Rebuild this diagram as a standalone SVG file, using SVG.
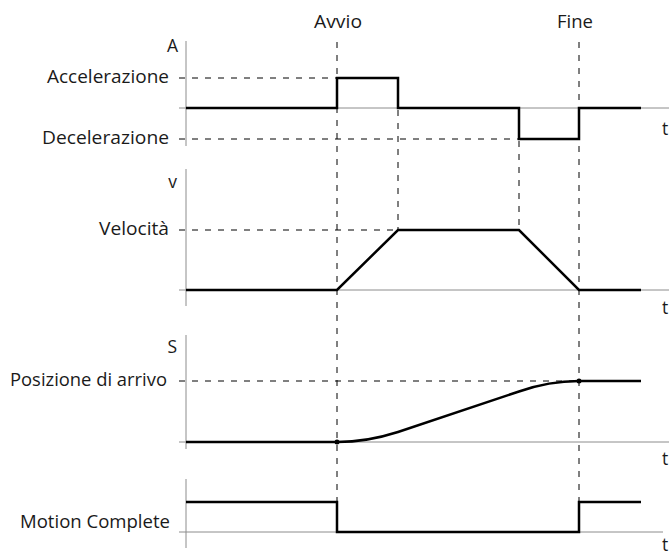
<svg xmlns="http://www.w3.org/2000/svg" width="669" height="556" viewBox="0 0 669 556">
<style>
.bg{fill:#ffffff}
.axis{stroke:#8c8c8c;stroke-width:1;fill:none}
.dash{stroke:#000;stroke-width:1;stroke-dasharray:6 7;fill:none}
.sig{stroke:#000;stroke-width:2.5;fill:none;stroke-linejoin:miter}
.lbl{font-family:"Open Sans","Noto Sans","DejaVu Sans",sans-serif;font-size:17.5px;fill:#1a1a1a}
.end{text-anchor:end}
.mid{text-anchor:middle}
.dot{fill:#000}
</style>
<rect class="bg" x="0" y="0" width="669" height="556"/>
<g id="connectors">
  <line class="dash" x1="337" y1="42" x2="337" y2="502"/>
  <line class="dash" x1="579" y1="42" x2="579" y2="502"/>
  <line class="dash" x1="398" y1="110" x2="398" y2="230"/>
  <line class="dash" x1="519" y1="141" x2="519" y2="230"/>
  <line class="dash" x1="179" y1="78" x2="337" y2="78"/>
  <line class="dash" x1="179" y1="139" x2="519" y2="139"/>
  <line class="dash" x1="179" y1="230" x2="398" y2="230"/>
  <line class="dash" x1="179" y1="381" x2="579" y2="381"/>
</g>
<g id="chart-acceleration">
  <line class="axis" x1="186" y1="41" x2="186" y2="146"/>
  <line class="axis" x1="179" y1="108" x2="669" y2="108"/>
  <path class="sig" d="M186,108 H337 V78 H398 V108 H519 V139 H579 V108 H641"/>
  <text class="lbl end" x="178" y="52">A</text>
  <text class="lbl end" x="169" y="83" textLength="122" lengthAdjust="spacingAndGlyphs">Accelerazione</text>
  <text class="lbl end" x="169" y="144" textLength="127" lengthAdjust="spacingAndGlyphs">Decelerazione</text>
  <text class="lbl" x="662" y="135">t</text>
</g>
<g id="chart-velocity">
  <line class="axis" x1="186" y1="169" x2="186" y2="306"/>
  <line class="axis" x1="179" y1="290" x2="669" y2="290"/>
  <path class="sig" d="M186,290 H337 L398,230 H519 L579,290 H641"/>
  <text class="lbl end" x="177" y="188">v</text>
  <text class="lbl end" x="169" y="235" textLength="70" lengthAdjust="spacingAndGlyphs">Velocità</text>
  <text class="lbl" x="662" y="314">t</text>
</g>
<g id="chart-position">
  <line class="axis" x1="186" y1="335" x2="186" y2="449"/>
  <line class="axis" x1="179" y1="442" x2="669" y2="442"/>
  <path class="sig" d="M186,442 H337 Q367,442 398,432 L519,391.5 Q549,381 579,381 H641"/>
  <circle class="dot" cx="337" cy="442" r="2.5"/>
  <circle class="dot" cx="579" cy="381" r="2.5"/>
  <text class="lbl end" x="177" y="353">S</text>
  <text class="lbl end" x="167" y="386" textLength="157" lengthAdjust="spacingAndGlyphs">Posizione di arrivo</text>
  <text class="lbl" x="662" y="465">t</text>
</g>
<g id="chart-motion-complete">
  <line class="axis" x1="186" y1="479" x2="186" y2="548"/>
  <line class="axis" x1="179" y1="532" x2="663" y2="532"/>
  <path class="sig" d="M186,502 H337 V532 H579 V502 H641"/>
  <text class="lbl end" x="170" y="528" textLength="150" lengthAdjust="spacingAndGlyphs">Motion Complete</text>
  <text class="lbl" x="662" y="551">t</text>
</g>
<g id="events">
  <text class="lbl mid" x="338" y="28" textLength="48" lengthAdjust="spacingAndGlyphs">Avvio</text>
  <text class="lbl mid" x="575" y="28" textLength="36" lengthAdjust="spacingAndGlyphs">Fine</text>
</g>
</svg>
